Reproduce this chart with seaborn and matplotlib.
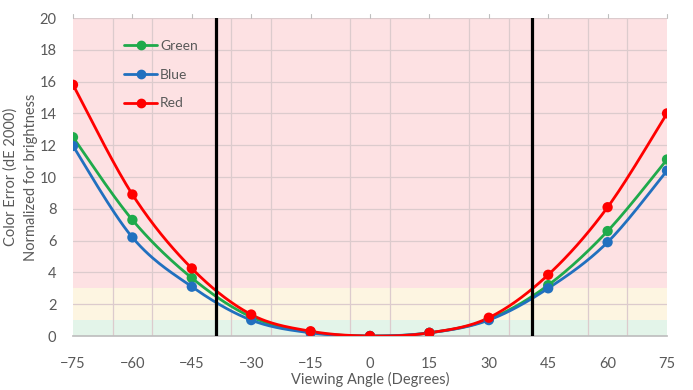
import numpy as np
import pandas as pd
import seaborn as sns
import matplotlib.pyplot as plt
from matplotlib.lines import Line2D

# Données
angles = [-75, -60, -45, -30, -15, 0, 15, 30, 45, 60, 75]
green = [12.5, 7.3, 3.65, 1.2, 0.25, 0.0, 0.2, 1.05, 3.2, 6.6, 11.1]
blue = [11.95, 6.2, 3.1, 1.0, 0.2, 0.0, 0.2, 1.0, 3.0, 5.9, 10.4]
red = [15.8, 8.9, 4.25, 1.35, 0.3, 0.0, 0.2, 1.15, 3.85, 8.1, 14.0]
limits = [-39, 41]

series = {"Green": green, "Blue": blue, "Red": red}
colors = {"Green": "#1faa4b", "Blue": "#2170bf", "Red": "#ff0000"}


def smooth(x, y, n=30):
    # courbe lissée façon Excel (Bézier type Catmull-Rom)
    x = np.asarray(x, float)
    y = np.asarray(y, float)
    px, py = [], []
    for i in range(len(x) - 1):
        x0, y0 = (x[i - 1], y[i - 1]) if i > 0 else (x[i], y[i])
        x3, y3 = (x[i + 2], y[i + 2]) if i + 2 < len(x) else (x[i + 1], y[i + 1])
        c1x = x[i] + (x[i + 1] - x0) / 6
        c1y = y[i] + (y[i + 1] - y0) / 6
        c2x = x[i + 1] - (x3 - x[i]) / 6
        c2y = y[i + 1] - (y3 - y[i]) / 6
        t = np.linspace(0, 1, n)
        bx = (1 - t) ** 3 * x[i] + 3 * (1 - t) ** 2 * t * c1x + 3 * (1 - t) * t ** 2 * c2x + t ** 3 * x[i + 1]
        by = (1 - t) ** 3 * y[i] + 3 * (1 - t) ** 2 * t * c1y + 3 * (1 - t) * t ** 2 * c2y + t ** 3 * y[i + 1]
        px.extend(bx)
        py.extend(by)
    return np.array(px), np.array(py)


sns.set_theme(style="white")
plt.rcParams["font.family"] = ["Lato", "DejaVu Sans"]
txt = "#595959"

fig = plt.figure(figsize=(6.93, 3.9), dpi=100)
ax = fig.add_axes([73 / 693, 1 - 336 / 390, 594 / 693, 318 / 390])

# bandes de couleur
ax.axhspan(0, 1, color="#e3f4e9", zorder=0, lw=0)
ax.axhspan(1, 3, color="#fdf5e1", zorder=0, lw=0)
ax.axhspan(3, 20, color="#fde1e3", zorder=0, lw=0)

for name, vals in series.items():
    sx, sy = smooth(angles, vals)
    sns.lineplot(x=sx, y=sy, ax=ax, color=colors[name], lw=2, sort=False, zorder=3)
    sns.scatterplot(x=angles, y=vals, ax=ax, color=colors[name], s=55, edgecolor="none", zorder=4)

for v in limits:
    ax.axvline(v, color="black", lw=2.3, zorder=5)

ax.set_xlim(-75, 75)
ax.set_ylim(0, 20)
ax.set_xticks(range(-75, 76, 15))
ax.set_xticks(range(-75, 76, 10), minor=True)
ax.set_yticks(range(0, 21, 2))
ax.grid(True, which="minor", axis="x", color="#dccbcd", lw=0.9, zorder=1)
ax.grid(True, which="major", axis="y", color="#dccbcd", lw=0.9, zorder=1)
ax.grid(False, which="major", axis="x")
ax.set_axisbelow(True)

for s in ["top", "left", "right"]:
    ax.spines[s].set_visible(False)
ax.spines["bottom"].set_color("#bfbfbf")
ax.tick_params(axis="x", which="both", bottom=False, top=False, labelsize=10.5, labelcolor=txt, pad=9)
ax.tick_params(axis="y", left=False, labelsize=10.5, labelcolor=txt, pad=6)

# petites graduations en haut
for a in range(-75, 76, 15):
    ax.plot([a, a], [20, 20.25], color="#bfbfbf", lw=0.8, clip_on=False)

ax.set_xlabel("Viewing Angle (Degrees)", fontsize=10.5, color=txt, labelpad=1)
ax.set_ylabel("Color Error (dE 2000)\nNormalized for brightness", fontsize=10.5, color=txt,
              labelpad=1, linespacing=1.55)

handles = [Line2D([0], [0], color=colors[n], lw=2, marker="o", markersize=6) for n in series]
ax.legend(handles, list(series.keys()), loc="upper left", bbox_to_anchor=(0.065, 0.97),
          frameon=False, fontsize=10, labelcolor=txt, handlelength=2.4, handletextpad=0.2,
          labelspacing=1.2)

fig.savefig("out.png", dpi=100)
